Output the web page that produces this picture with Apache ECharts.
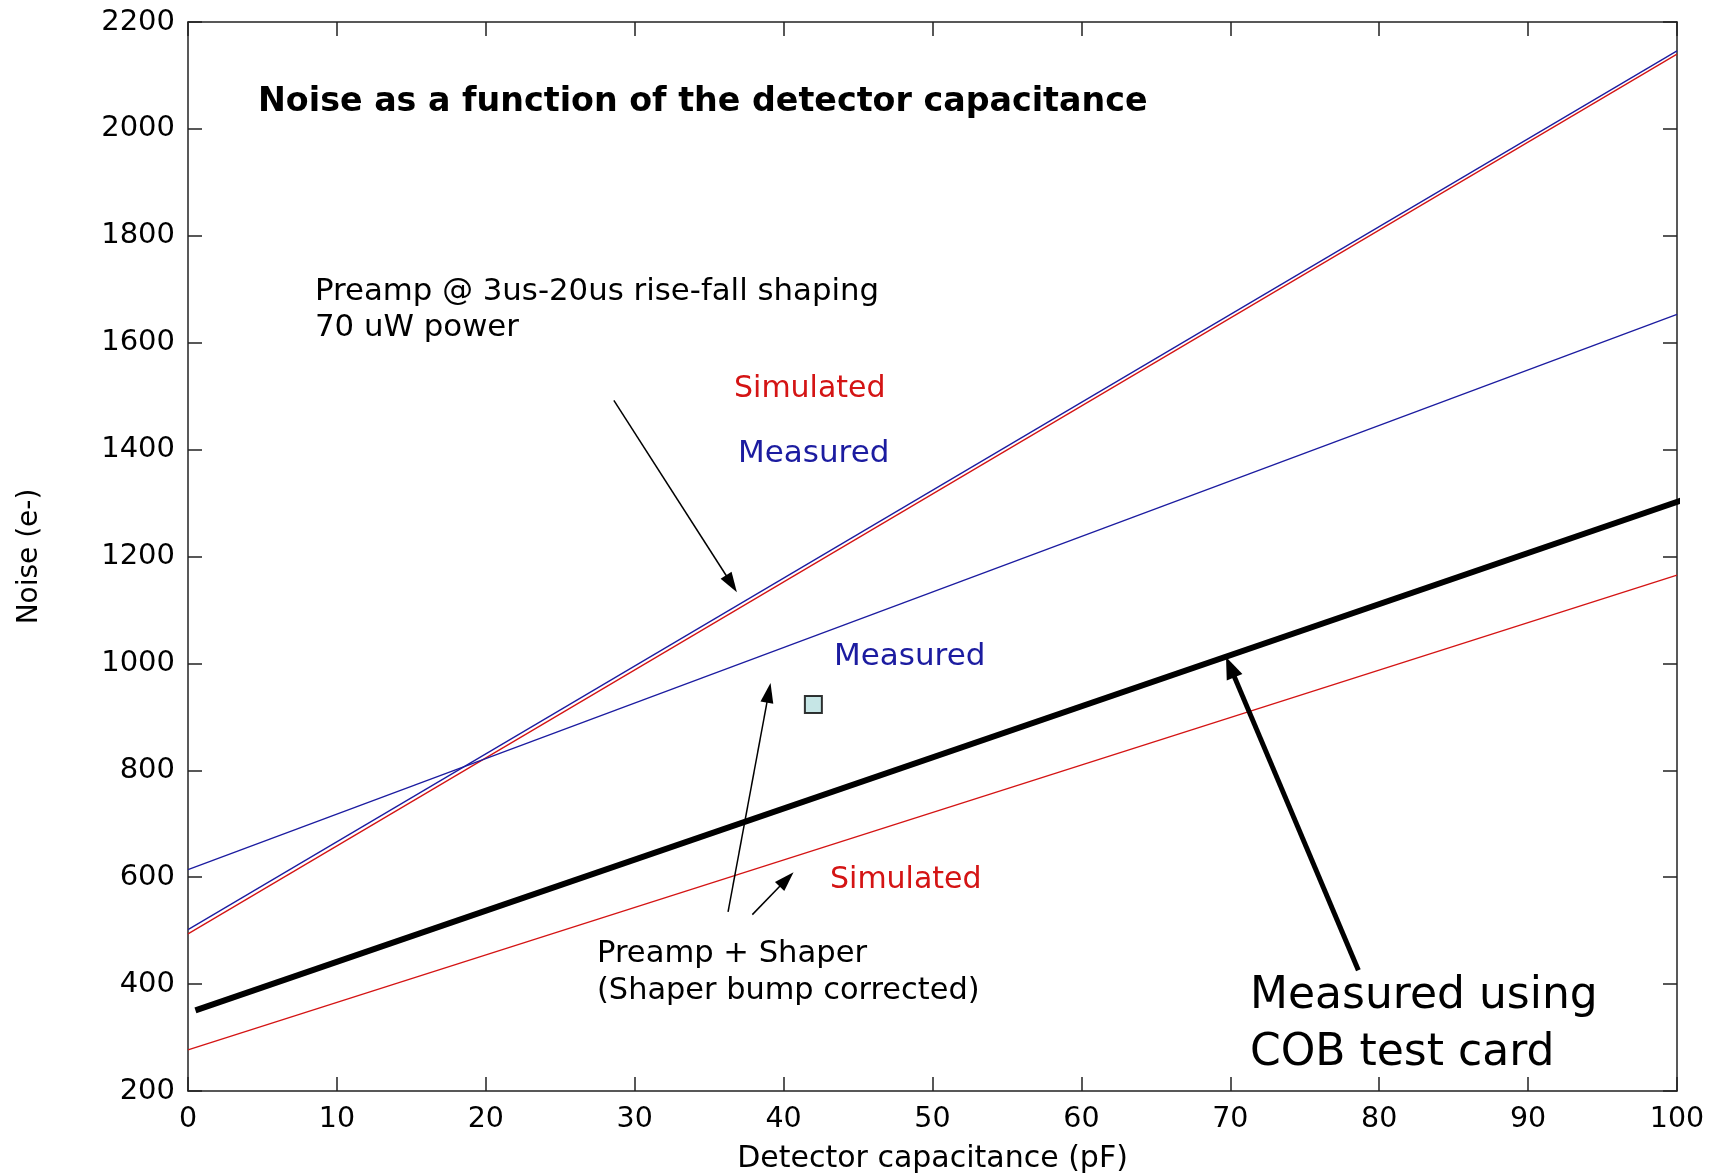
<!DOCTYPE html>
<html>
<head>
<meta charset="utf-8">
<script src="https://cdn.jsdelivr.net/npm/echarts@6/dist/echarts.min.js"></script>
<style>html,body{margin:0;padding:0;background:#fff;}#c{width:1710px;height:1173px;}</style>
</head>
<body>
<div id="c"></div>
<script>
// ---- data ----
const capacitance = [0, 100];
const preampSimulated = [494, 2140];
const preampMeasured = [502, 2146];
const shaperSimulated = [277, 1165];
const shaperMeasured = [614, 1653];
const cobCapacitance = [0.5, 100.4];
const cobMeasured = [351, 1306];
const pointCapacitance = [42];
const pointNoise = [923];
const xMin = 0, xMax = 100, xStep = 10;
const yMin = 200, yMax = 2200, yStep = 200;
// annotation arrows: [tail, tip] in data units
const thinArrows = [
  [[28.6, 1492], [36.5, 1149]],
  [[36.27, 535], [39.0, 945]],
  [[37.9, 530], [40.2, 596]]
];
const thickArrows = [
  [[78.6, 426], [70.0, 993]]
];

const FONT = 'DejaVu Sans';
const RED = '#d41414';
const BLUE = '#1c1ca0';

function zip(xs, ys) { return xs.map((x, i) => [x, ys[i]]); }

const chart = echarts.init(document.getElementById('c'));

const axisLineStyle = { color: '#222', width: 1.5 };
function xAx(pos, labels) {
  return {
    type: 'value', min: xMin, max: xMax, interval: xStep, position: pos,
    name: labels ? 'Detector capacitance (pF)' : '',
    nameLocation: 'middle', nameGap: 53,
    nameTextStyle: { fontFamily: FONT, fontSize: 30, color: '#000' },
    axisLine: { show: true, onZero: false, lineStyle: axisLineStyle },
    axisTick: { show: true, inside: true, length: 14, lineStyle: { color: '#222', width: 1.5 } },
    axisLabel: { show: labels, fontFamily: FONT, fontSize: 28.5, color: '#000', margin: 14,
                 formatter: v => String(v) },
    splitLine: { show: false }
  };
}
function yAx(pos, labels) {
  return {
    type: 'value', min: yMin, max: yMax, interval: yStep, position: pos,
    name: labels ? 'Noise (e-)' : '',
    nameLocation: 'middle', nameGap: 144,
    nameTextStyle: { fontFamily: FONT, fontSize: 28, color: '#000' },
    axisLine: { show: true, onZero: false, lineStyle: axisLineStyle },
    axisTick: { show: true, inside: true, length: 14, lineStyle: { color: '#222', width: 1.5 } },
    axisLabel: { show: labels, fontFamily: FONT, fontSize: 29, color: '#000', margin: 13,
                 formatter: v => String(v) },
    splitLine: { show: false }
  };
}

function lineSeries(name, xs, ys, color, width, clip) {
  return {
    name, type: 'line', data: zip(xs, ys), showSymbol: false, symbol: 'none',
    clip: clip, silent: true, animation: false,
    lineStyle: { color, width }, z: 3
  };
}

function arrowData(list) {
  return list.map(a => [{ coord: a[0] }, { coord: a[1] }]);
}

const txt = (text, x, y, size, color, weight, align) => ({
  type: 'text', x, y, silent: true, z: 100,
  style: { text, fill: color || '#000', fontFamily: FONT, fontSize: size,
           fontWeight: weight || 'normal', align: align || 'left', verticalAlign: 'middle' }
});

chart.setOption({
  animation: false,
  backgroundColor: '#fff',
  grid: { left: 188, top: 22, width: 1489, height: 1069, containLabel: false, outerBoundsMode: 'none' },
  xAxis: [xAx('bottom', true), xAx('top', false)],
  yAxis: [yAx('left', true), yAx('right', false)],
  series: [
    lineSeries('Preamp simulated', capacitance, preampSimulated, RED, 1.3, true),
    lineSeries('Preamp measured', capacitance, preampMeasured, BLUE, 1.3, true),
    lineSeries('Shaper measured', capacitance, shaperMeasured, BLUE, 1.3, true),
    lineSeries('Shaper simulated', capacitance, shaperSimulated, RED, 1.3, true),
    lineSeries('COB measured', cobCapacitance, cobMeasured, '#000', 6, false),
    {
      name: 'point', type: 'scatter', data: zip(pointCapacitance, pointNoise),
      symbol: 'rect', symbolSize: 17, silent: true, z: 5,
      itemStyle: { color: '#b8e0e0', borderColor: '#000', borderWidth: 2 }
    },
    {
      name: 'thin arrows', type: 'line', data: [], silent: true,
      markLine: {
        silent: true, animation: false, symbol: ['none', 'triangle'], symbolSize: [13, 20],
        label: { show: false },
        lineStyle: { color: '#000', width: 1.5, type: 'solid' },
        emphasis: { disabled: true },
        data: arrowData(thinArrows)
      }
    },
    {
      name: 'thick arrows', type: 'line', data: [], silent: true,
      markLine: {
        silent: true, animation: false, symbol: ['none', 'triangle'], symbolSize: [17, 22],
        label: { show: false },
        lineStyle: { color: '#000', width: 5, type: 'solid' },
        emphasis: { disabled: true },
        data: arrowData(thickArrows)
      }
    }
  ],
  graphic: [
    txt('Noise as a function of the detector capacitance', 258, 102, 33.3, '#000', 'bold'),
    txt('Preamp @ 3us-20us rise-fall shaping', 315, 292, 30.8),
    txt('70 uW power', 315, 328, 30.8),
    txt('Simulated', 734, 389, 30, RED),
    txt('Measured', 738, 454, 31, BLUE),
    txt('Measured', 834, 657, 31, BLUE),
    txt('Simulated', 830, 880, 30, RED),
    txt('Preamp + Shaper', 597, 954, 30.6),
    txt('(Shaper bump corrected)', 597, 991, 30.4),
    txt('Measured using', 1250, 997, 44),
    txt('COB test card', 1250, 1054, 44)
  ]
});
</script>
</body>
</html>
